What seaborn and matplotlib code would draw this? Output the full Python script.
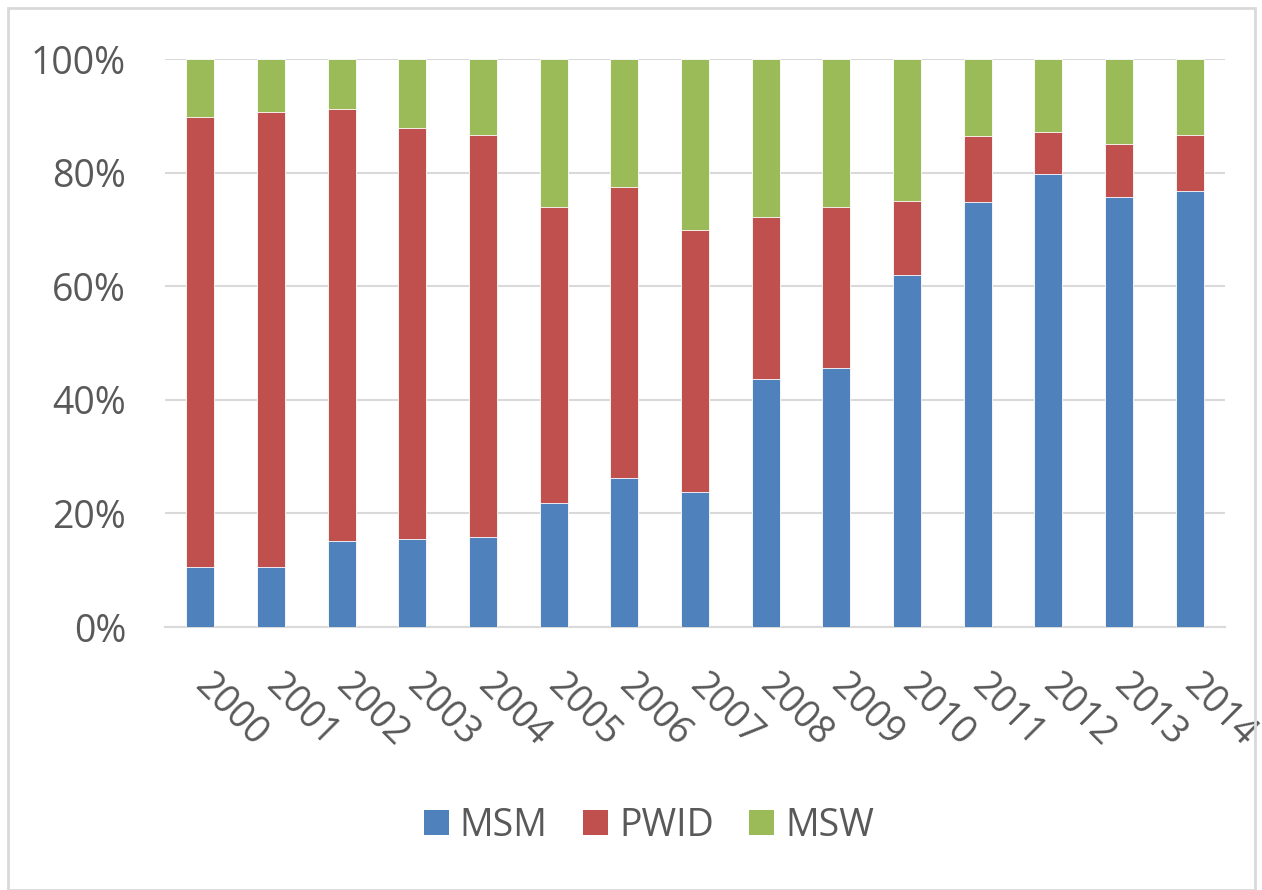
import matplotlib
matplotlib.use("Agg")
import matplotlib.pyplot as plt
import seaborn as sns
import pandas as pd
import numpy as np
from matplotlib.patches import Rectangle, Patch
from matplotlib.ticker import FuncFormatter

years = [str(y) for y in range(2000, 2015)]
msm = [10.6, 10.6, 15.1, 15.5, 15.8, 21.8, 26.3, 23.8, 43.6, 45.6, 61.9, 74.9, 79.8, 75.7, 76.7]
pwid = [79.2, 80.0, 76.1, 72.3, 70.9, 52.2, 51.2, 46.1, 28.6, 28.4, 13.1, 11.5, 7.3, 9.3, 10.0]
msw = [10.2, 9.4, 8.8, 12.2, 13.3, 26.0, 22.5, 30.1, 27.8, 26.0, 25.0, 13.6, 12.9, 15.0, 13.3]
series = ["MSM", "PWID", "MSW"]
colors = {"MSM": "#4F81BD", "PWID": "#C0504D", "MSW": "#9BBB59"}

sns.set_theme(style="white")
plt.rcParams['font.family'] = ['Open Sans', 'DejaVu Sans']
text_color = "#595959"

df = pd.DataFrame({"year": years, "MSM": msm, "PWID": pwid, "MSW": msw})
df["c_msm"] = df["MSM"]
df["c_pwid"] = df["MSM"] + df["PWID"]
df["c_msw"] = df["MSM"] + df["PWID"] + df["MSW"]

fig = plt.figure(figsize=(12.62, 8.90), dpi=100)
ax = fig.add_axes([165/1262, 1-627/890, (1225-165)/1262, (627-59)/890])

for col, name in [("c_msw", "MSW"), ("c_pwid", "PWID"), ("c_msm", "MSM")]:
    sns.barplot(data=df, x="year", y=col, color=colors[name], width=0.4,
                saturation=1, ax=ax, edgecolor="white", linewidth=0.6, zorder=3)

ax.set_ylim(0, 100)
ax.set_xlim(-0.5, len(years) - 0.5)
ax.set_yticks([0, 20, 40, 60, 80, 100])
ax.yaxis.set_major_formatter(FuncFormatter(lambda v, p: f"{int(v)}%"))
ax.grid(axis="y", color="#d9d9d9", linewidth=1.5, zorder=0)
ax.set_axisbelow(True)
for s in ["left", "right", "top"]:
    ax.spines[s].set_visible(False)
ax.spines["bottom"].set_color("#d9d9d9")
ax.spines["bottom"].set_linewidth(1.5)
ax.set_xlabel("")
ax.set_ylabel("")
ax.tick_params(axis="y", length=0, pad=28, labelsize=27, labelcolor=text_color)
ax.tick_params(axis="x", length=0, pad=38, labelsize=27, labelcolor=text_color)
for lab in ax.get_xticklabels():
    lab.set_rotation(-45)
    lab.set_ha("left")
    lab.set_va("center")
    lab.set_rotation_mode("anchor")

handles = [Patch(facecolor=colors[s], edgecolor="none") for s in series]
fig.legend(handles, series, loc="center", bbox_to_anchor=(649/1262, 1-826/890),
           ncol=3, frameon=False, fontsize=27, labelcolor=text_color,
           handlelength=0.65, handleheight=0.65, handletextpad=0.3, columnspacing=0.95)

fig.patches.append(Rectangle((8/1262, 0.0), (1255-8)/1262, 1-8/890,
                             transform=fig.transFigure, fill=False,
                             edgecolor="#d9d9d9", linewidth=2))

fig.savefig("out.png", dpi=100, facecolor="white")
